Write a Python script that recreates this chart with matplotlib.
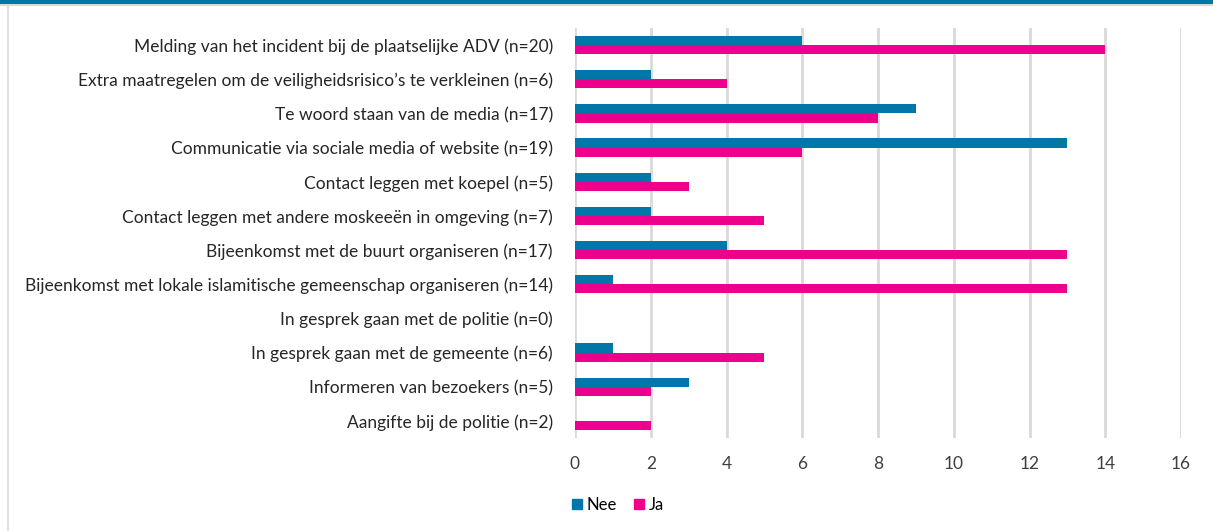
import matplotlib
matplotlib.use("Agg")
import matplotlib.pyplot as plt
from matplotlib.patches import Rectangle
from matplotlib.lines import Line2D
import numpy as np

categories = [
    "Melding van het incident bij de plaatselijke ADV (n=20)",
    "Extra maatregelen om de veiligheidsrisico\u2019s te verkleinen (n=6)",
    "Te woord staan van de media (n=17)",
    "Communicatie via sociale media of website (n=19)",
    "Contact leggen met koepel (n=5)",
    "Contact leggen met andere moskee\u00ebn in omgeving (n=7)",
    "Bijeenkomst met de buurt organiseren (n=17)",
    "Bijeenkomst met lokale islamitische gemeenschap organiseren (n=14)",
    "In gesprek gaan met de politie (n=0)",
    "In gesprek gaan met de gemeente (n=6)",
    "Informeren van bezoekers (n=5)",
    "Aangifte bij de politie (n=2)",
]
nee = [6, 2, 9, 13, 2, 2, 4, 1, 0, 1, 3, 0]
ja = [14, 4, 8, 6, 3, 5, 13, 13, 0, 5, 2, 2]
xticks = [0, 2, 4, 6, 8, 10, 12, 14, 16]

c_nee = "#0077A8"
c_ja = "#EC008C"

plt.rcParams['font.family'] = ['Lato', 'DejaVu Sans']

fig = plt.figure(figsize=(12.13, 5.31), dpi=100)
ax = fig.add_axes([575/1213, 1-438/531, (1181-575)/1213, (438-28)/531])

y = np.arange(len(categories))
h = 0.27
ax.barh(y - h/2, nee, height=h, color=c_nee, zorder=3)
ax.barh(y + h/2, ja, height=h, color=c_ja, zorder=3)

ax.set_ylim(len(categories) - 0.5, -0.5)
ax.set_xlim(0, 16)
ax.set_xticks(xticks)
ax.set_xticklabels([str(t) for t in xticks], fontsize=12.5, color="#404040")
ax.set_yticks(y)
ax.set_yticklabels(categories, fontsize=12.5, color="#262626")
ax.tick_params(axis='both', length=0)
ax.tick_params(axis='x', pad=13)
ax.tick_params(axis='y', pad=16)
for s in ax.spines.values():
    s.set_visible(False)
ax.grid(axis='x', color="#D9D9D9", linewidth=2, zorder=0)
ax.set_axisbelow(True)

# legend
handles = [Rectangle((0, 0), 1, 1, color=c_nee), Rectangle((0, 0), 1, 1, color=c_ja)]
fig.legend(handles, ["Nee", "Ja"], loc="center", bbox_to_anchor=(618/1213, 1-505/531),
           ncol=2, frameon=False, fontsize=12, handlelength=0.6, handleheight=0.6,
           handletextpad=0.3, columnspacing=1.0)

# frame decorations
fig.add_artist(Rectangle((0, 1-4/531), 1, 4/531, transform=fig.transFigure, color="#0077A8", lw=0))
fig.add_artist(Rectangle((0, 1-6/531), 1, 2/531, transform=fig.transFigure, color="#D9D9D9", lw=0))
fig.add_artist(Line2D([8/1213, 8/1213], [0, 1-6/531], transform=fig.transFigure, color="#D9D9D9", lw=1.2))

fig.savefig("out.png", dpi=100)
